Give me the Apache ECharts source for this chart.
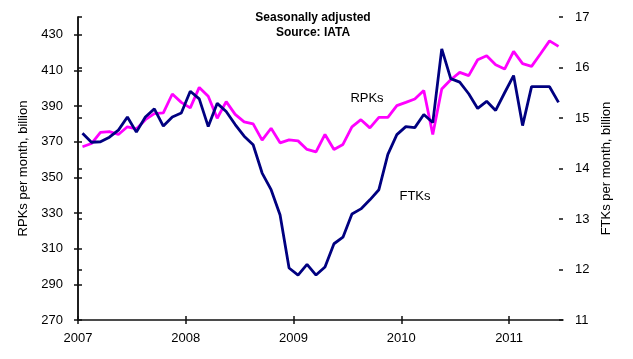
<!DOCTYPE html>
<html>
<head>
<meta charset="utf-8">
<script src="https://cdn.jsdelivr.net/npm/echarts@6/dist/echarts.min.js"></script>
<style>
html,body{margin:0;padding:0;background:#fff;}
#chart{width:633px;height:359px;}
</style>
</head>
<body>
<div id="chart"></div>
<script>
// Monthly data, Jan 2007 - Jun 2011
const months = [];
for (let y = 2007; y <= 2011; y++) {
  for (let m = 1; m <= 12; m++) {
    if (y === 2011 && m > 6) break;
    months.push(y + '-' + (m < 10 ? '0' : '') + m);
  }
}
// RPKs, billion per month (left axis)
const rpks = [
  367.2, 369.0, 375.3, 375.7, 374.1, 378.4, 377.2, 382.4, 385.8, 386.2, 396.8, 392.1,
  389.0, 400.5, 395.5, 383.2, 392.5, 385.4, 381.2, 380.0, 370.9, 377.6, 369.4, 371.1,
  370.5, 365.7, 364.3, 374.1, 365.7, 368.5, 378.4, 382.4, 377.8, 383.7, 383.7, 390.3,
  392.1, 394.0, 398.8, 374.1, 399.6, 404.8, 408.9, 407.1, 416.0, 418.3, 413.2, 410.8,
  420.7, 413.8, 412.3, 419.4, 426.6, 423.5
];
// FTKs, billion per month (right axis)
const ftks = [
  14.70, 14.52, 14.53, 14.62, 14.76, 15.02, 14.72, 15.02, 15.18, 14.84, 15.02, 15.10,
  15.53, 15.38, 14.83, 15.29, 15.13, 14.87, 14.64, 14.47, 13.91, 13.58, 13.08, 12.03,
  11.89, 12.10, 11.89, 12.05, 12.51, 12.64, 13.10, 13.20, 13.38, 13.58, 14.28, 14.67,
  14.83, 14.81, 15.07, 14.91, 16.37, 15.78, 15.71, 15.48, 15.19, 15.33, 15.15, 15.50,
  15.84, 14.85, 15.62, 15.62, 15.62, 15.31
];
const leftTicks = [270, 290, 310, 330, 350, 370, 390, 410, 430];
const rightTicks = [11, 12, 13, 14, 15, 16, 17];
const yearLabels = ['2007', '2008', '2009', '2010', '2011'];
const yearTicks = yearLabels.map((y, i) => i * 12);

const toPts = arr => arr.map((v, i) => [i + 0.5, v]);

const axisColor = '#111';
const lbl = { color: '#000', fontSize: 13, fontFamily: 'Liberation Sans, Arial, sans-serif' };

const chart = echarts.init(document.getElementById('chart'), null, { renderer: 'canvas' });
chart.setOption({
  animation: false,
  backgroundColor: '#fff',
  grid: { left: 78, right: 70, top: 17, bottom: 39, containLabel: false },
  xAxis: [
    {
      type: 'value', min: 0, max: months.length, position: 'bottom',
      axisLine: { lineStyle: { color: axisColor, width: 1.5 } },
      axisTick: { length: 4, inside: false, customValues: yearTicks, lineStyle: { color: axisColor, width: 1.5 } },
      axisLabel: Object.assign({ customValues: yearTicks, margin: 12,
        formatter: v => yearLabels[Math.round(v / 12)] || '' }, lbl),
      splitLine: { show: false }
    },
    {
      type: 'value', min: 0, max: months.length, position: 'bottom',
      axisLine: { show: false },
      axisTick: { length: 4, inside: true, customValues: yearTicks, lineStyle: { color: axisColor, width: 1.5 } },
      axisLabel: { show: false }, splitLine: { show: false }
    }
  ],
  yAxis: [
    {
      type: 'value', min: 270, max: 440, position: 'left',
      name: 'RPKs per month, billion', nameLocation: 'middle', nameGap: 47,
      nameTextStyle: lbl,
      axisLine: { show: true, lineStyle: { color: axisColor, width: 1.5 } },
      axisTick: { show: true, length: 4, customValues: leftTicks, lineStyle: { color: axisColor, width: 1.5 } },
      axisLabel: Object.assign({ customValues: leftTicks, margin: 15 }, lbl),
      splitLine: { show: false }
    },
    {
      type: 'value', min: 11, max: 17, position: 'right',
      name: 'FTKs per month, billion', nameLocation: 'middle', nameGap: 31,
      nameTextStyle: lbl,
      axisLine: { show: true, lineStyle: { color: axisColor, width: 1.5 } },
      axisTick: { show: true, length: 4, customValues: rightTicks, lineStyle: { color: axisColor, width: 1.5 } },
      axisLabel: Object.assign({ customValues: rightTicks, margin: 12 }, lbl),
      splitLine: { show: false }
    },
    {
      type: 'value', min: 270, max: 440, position: 'left',
      axisLine: { show: false },
      axisTick: { show: true, inside: true, length: 4, customValues: leftTicks, lineStyle: { color: axisColor, width: 1.5 } },
      axisLabel: { show: false }, splitLine: { show: false }
    },
    {
      type: 'value', min: 11, max: 17, position: 'right',
      axisLine: { show: false },
      axisTick: { show: true, inside: true, length: 4, customValues: rightTicks, lineStyle: { color: axisColor, width: 1.5 } },
      axisLabel: { show: false }, splitLine: { show: false }
    }
  ],
  graphic: [
    { type: 'text', x: 313, y: 18, style: { text: 'Seasonally adjusted', align: 'center', verticalAlign: 'middle',
      font: 'bold 12px Liberation Sans, Arial, sans-serif', fill: '#000' } },
    { type: 'text', x: 313, y: 33, style: { text: 'Source: IATA', align: 'center', verticalAlign: 'middle',
      font: 'bold 12px Liberation Sans, Arial, sans-serif', fill: '#000' } },
    { type: 'text', x: 367, y: 98, style: { text: 'RPKs', align: 'center', verticalAlign: 'middle',
      font: '13px Liberation Sans, Arial, sans-serif', fill: '#000' } },
    { type: 'text', x: 415, y: 196, style: { text: 'FTKs', align: 'center', verticalAlign: 'middle',
      font: '13px Liberation Sans, Arial, sans-serif', fill: '#000' } }
  ],
  series: [
    {
      name: 'RPKs', type: 'line', xAxisIndex: 0, yAxisIndex: 0,
      data: toPts(rpks), symbol: 'none', z: 2,
      lineStyle: { color: '#FF00FF', width: 2.8 }
    },
    {
      name: 'FTKs', type: 'line', xAxisIndex: 0, yAxisIndex: 1,
      data: toPts(ftks), symbol: 'none', z: 3,
      lineStyle: { color: '#000080', width: 2.8 }
    }
  ]
});
</script>
</body>
</html>
